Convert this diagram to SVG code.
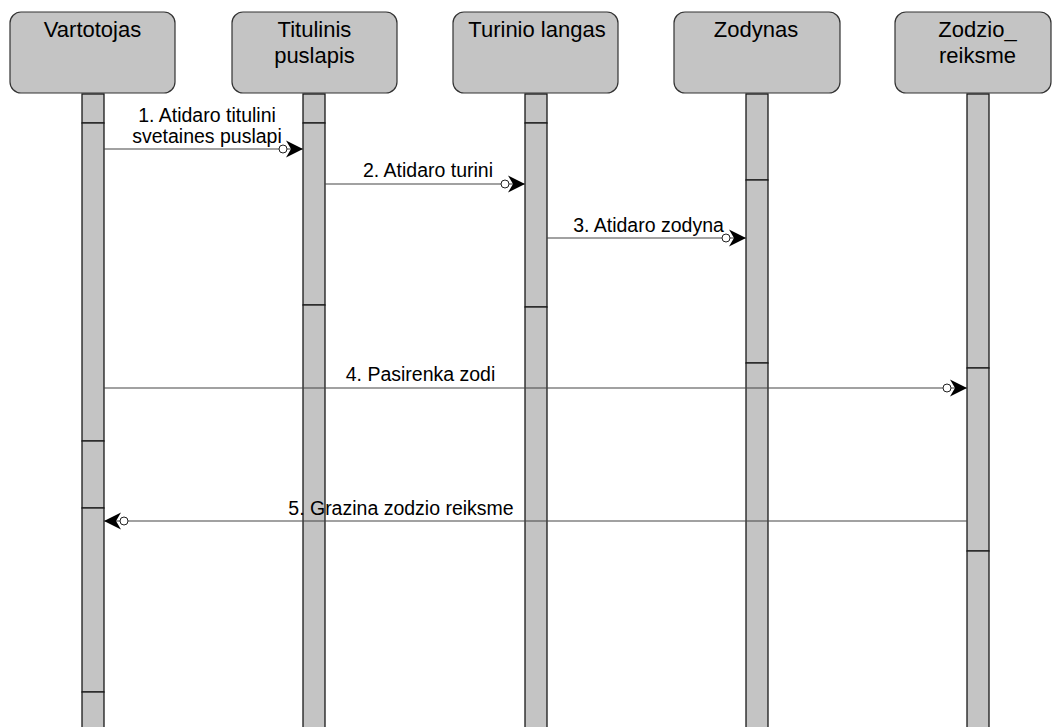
<svg xmlns="http://www.w3.org/2000/svg" width="1052" height="727" viewBox="0 0 1052 727">
  <style>
    .head { fill: #c4c4c4; stroke: #333; stroke-width: 1.2; }
    .bar { fill: #c4c4c4; stroke: #1a1a1a; stroke-width: 1.3; }
    .htxt { font-family: "Liberation Sans", Arial, sans-serif; font-size: 22px; fill: #000; text-anchor: middle; }
    .mtxt { font-family: "Liberation Sans", Arial, sans-serif; font-size: 19.5px; fill: #000; text-anchor: middle; }
    .msg { stroke: #444; stroke-width: 1.2; fill: none; marker-end: url(#call); }
  </style>
  <defs>
    <!-- filled notched arrowhead with a small open circle behind it -->
    <marker id="call" markerUnits="userSpaceOnUse" markerWidth="28" markerHeight="20" refX="25" refY="10" orient="auto" overflow="visible">
      <path d="M25,10 L8,1.5 L13,10 L8,18.5 Z" fill="#000"/>
      <circle cx="5" cy="10" r="4" fill="#fff" stroke="#222" stroke-width="1"/>
    </marker>
  </defs>
  <rect width="1052" height="727" fill="#fff"/>

  <g id="vartotojas">
    <rect class="head" x="10" y="12" width="165" height="81" rx="11"/>
    <text class="htxt" x="92.5" y="37">Vartotojas</text>
    <rect class="bar" x="82" y="94" width="22" height="29"/>
    <rect class="bar" x="82" y="123" width="22" height="318"/>
    <rect class="bar" x="82" y="441" width="22" height="67"/>
    <rect class="bar" x="82" y="508" width="22" height="184"/>
    <rect class="bar" x="82" y="692" width="22" height="40"/>
  </g>

  <g id="titulinis">
    <rect class="head" x="232" y="12" width="165" height="81" rx="11"/>
    <text class="htxt" x="314.5" y="37">Titulinis</text>
    <text class="htxt" x="314.5" y="63">puslapis</text>
    <rect class="bar" x="303" y="94" width="22" height="29"/>
    <rect class="bar" x="303" y="123" width="22" height="182"/>
    <rect class="bar" x="303" y="305" width="22" height="427"/>
  </g>

  <g id="turinio">
    <rect class="head" x="453" y="12" width="165" height="81" rx="11"/>
    <text class="htxt" x="537" y="37">Turinio langas</text>
    <rect class="bar" x="525" y="94" width="22" height="29"/>
    <rect class="bar" x="525" y="123" width="22" height="184"/>
    <rect class="bar" x="525" y="307" width="22" height="425"/>
  </g>

  <g id="zodynas">
    <rect class="head" x="674" y="12" width="166" height="81" rx="11"/>
    <text class="htxt" x="756" y="37">Zodynas</text>
    <rect class="bar" x="746" y="94" width="22" height="86"/>
    <rect class="bar" x="746" y="180" width="22" height="183"/>
    <rect class="bar" x="746" y="363" width="22" height="369"/>
  </g>

  <g id="zodzio_reiksme">
    <rect class="head" x="895" y="12" width="156" height="81" rx="11"/>
    <text class="htxt" x="977.5" y="37">Zodzio_</text>
    <text class="htxt" x="977.5" y="63">reiksme</text>
    <rect class="bar" x="967" y="94" width="22" height="274"/>
    <rect class="bar" x="967" y="368" width="22" height="183"/>
    <rect class="bar" x="967" y="551" width="22" height="181"/>
  </g>

  <g id="connectors">
    <line class="msg" x1="104" y1="149" x2="303" y2="149"/>
    <text class="mtxt" x="207" y="122">1. Atidaro titulini</text>
    <text class="mtxt" x="207" y="143">svetaines puslapi</text>

    <line class="msg" x1="325" y1="184" x2="525" y2="184"/>
    <text class="mtxt" x="428" y="177">2. Atidaro turini</text>

    <line class="msg" x1="547" y1="238" x2="746" y2="238"/>
    <text class="mtxt" x="648.5" y="232">3. Atidaro zodyna</text>

    <line class="msg" x1="104" y1="388" x2="967" y2="388"/>
    <text class="mtxt" x="420.5" y="381">4. Pasirenka zodi</text>

    <line class="msg" x1="967" y1="521" x2="104" y2="521"/>
    <text class="mtxt" x="401" y="515">5. Grazina zodzio reiksme</text>
  </g>
</svg>
